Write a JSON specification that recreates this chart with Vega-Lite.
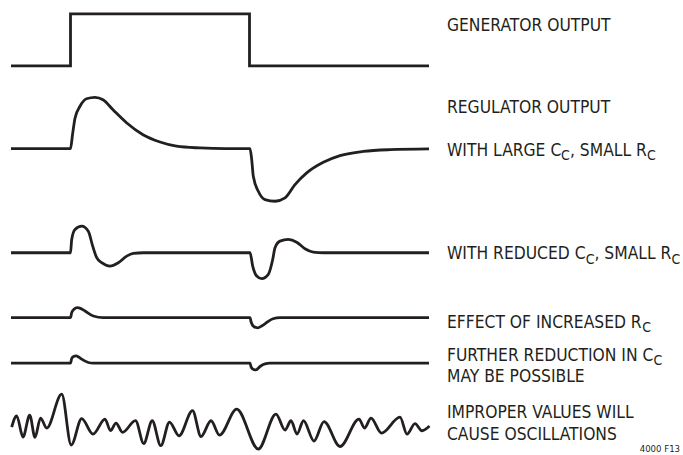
{
  "$schema": "https://vega.github.io/schema/vega-lite/v6.json",
  "width": 683,
  "height": 455,
  "autosize": {"type": "fit", "contains": "padding"},
  "padding": 0,
  "background": "white",
  "config": {"view": {"stroke": null}},
  "datasets": {
    "generator": [
      {"t": 11, "y": 66}, {"t": 70.5, "y": 66}, {"t": 70.5, "y": 14},
      {"t": 249.5, "y": 14}, {"t": 249.5, "y": 66}, {"t": 429, "y": 66}
    ],
    "curves": [
      {"trace": "large", "t": 11, "y": 149}, {"trace": "large", "t": 70.5, "y": 149}, {"trace": "large", "t": 72.5, "y": 135},
      {"trace": "large", "t": 75, "y": 118.5}, {"trace": "large", "t": 80, "y": 106.5}, {"trace": "large", "t": 86.5, "y": 99},
      {"trace": "large", "t": 95, "y": 97.5}, {"trace": "large", "t": 103, "y": 100}, {"trace": "large", "t": 113, "y": 110},
      {"trace": "large", "t": 126.5, "y": 123}, {"trace": "large", "t": 143, "y": 135}, {"trace": "large", "t": 160, "y": 142.3},
      {"trace": "large", "t": 176.5, "y": 146.5}, {"trace": "large", "t": 200, "y": 148.3}, {"trace": "large", "t": 226, "y": 149},
      {"trace": "large", "t": 250, "y": 149}, {"trace": "large", "t": 251.7, "y": 160}, {"trace": "large", "t": 253.3, "y": 176.7},
      {"trace": "large", "t": 258.3, "y": 191.7}, {"trace": "large", "t": 265, "y": 200}, {"trace": "large", "t": 275, "y": 201.7},
      {"trace": "large", "t": 285, "y": 198.3}, {"trace": "large", "t": 295, "y": 185}, {"trace": "large", "t": 306.7, "y": 173.3},
      {"trace": "large", "t": 323.3, "y": 162.7}, {"trace": "large", "t": 340, "y": 156}, {"trace": "large", "t": 363.3, "y": 151.7},
      {"trace": "large", "t": 390, "y": 150}, {"trace": "large", "t": 429, "y": 149.3},

      {"trace": "reduced", "t": 11, "y": 253.3}, {"trace": "reduced", "t": 70.5, "y": 253.3}, {"trace": "reduced", "t": 71.7, "y": 240},
      {"trace": "reduced", "t": 75, "y": 230}, {"trace": "reduced", "t": 81.7, "y": 226.7}, {"trace": "reduced", "t": 88.3, "y": 231.7},
      {"trace": "reduced", "t": 92.7, "y": 246.7}, {"trace": "reduced", "t": 96.7, "y": 258.3}, {"trace": "reduced", "t": 101.7, "y": 263.3},
      {"trace": "reduced", "t": 110, "y": 266.7}, {"trace": "reduced", "t": 118.3, "y": 263.3}, {"trace": "reduced", "t": 126.7, "y": 256.7},
      {"trace": "reduced", "t": 133.3, "y": 254}, {"trace": "reduced", "t": 143.3, "y": 253.3}, {"trace": "reduced", "t": 250, "y": 253.3},
      {"trace": "reduced", "t": 252.7, "y": 266.7}, {"trace": "reduced", "t": 256.7, "y": 276.7}, {"trace": "reduced", "t": 261.7, "y": 279.3},
      {"trace": "reduced", "t": 268.3, "y": 275}, {"trace": "reduced", "t": 272.7, "y": 260}, {"trace": "reduced", "t": 275, "y": 248.3},
      {"trace": "reduced", "t": 280, "y": 241.7}, {"trace": "reduced", "t": 288.3, "y": 240}, {"trace": "reduced", "t": 296.7, "y": 242.7},
      {"trace": "reduced", "t": 305, "y": 249.3}, {"trace": "reduced", "t": 313.3, "y": 252.7}, {"trace": "reduced", "t": 323.3, "y": 253.3},
      {"trace": "reduced", "t": 429, "y": 253.3},

      {"trace": "rc", "t": 11, "y": 318.3}, {"trace": "rc", "t": 70.5, "y": 318.3}, {"trace": "rc", "t": 71.7, "y": 313.3},
      {"trace": "rc", "t": 74, "y": 310}, {"trace": "rc", "t": 77.3, "y": 308.3}, {"trace": "rc", "t": 81, "y": 309.3},
      {"trace": "rc", "t": 85, "y": 311.7}, {"trace": "rc", "t": 93.3, "y": 316.7}, {"trace": "rc", "t": 103.3, "y": 318.3},
      {"trace": "rc", "t": 250, "y": 318.3}, {"trace": "rc", "t": 251.2, "y": 323}, {"trace": "rc", "t": 254, "y": 327.5},
      {"trace": "rc", "t": 257.5, "y": 328.5}, {"trace": "rc", "t": 262, "y": 326.5}, {"trace": "rc", "t": 267, "y": 323},
      {"trace": "rc", "t": 273, "y": 319.5}, {"trace": "rc", "t": 280, "y": 318.3}, {"trace": "rc", "t": 429, "y": 318.3},

      {"trace": "further", "t": 11, "y": 364}, {"trace": "further", "t": 70.5, "y": 364}, {"trace": "further", "t": 71.7, "y": 359.3},
      {"trace": "further", "t": 73.5, "y": 357.3}, {"trace": "further", "t": 76, "y": 356.7}, {"trace": "further", "t": 79, "y": 358},
      {"trace": "further", "t": 81.7, "y": 360}, {"trace": "further", "t": 88.3, "y": 363.3}, {"trace": "further", "t": 93.3, "y": 364},
      {"trace": "further", "t": 250, "y": 364}, {"trace": "further", "t": 251.2, "y": 368}, {"trace": "further", "t": 254, "y": 370.5},
      {"trace": "further", "t": 256, "y": 370.7}, {"trace": "further", "t": 260, "y": 367.3}, {"trace": "further", "t": 265, "y": 364.7},
      {"trace": "further", "t": 270, "y": 364}, {"trace": "further", "t": 429, "y": 364},

      {"trace": "osc", "t": 11.7, "y": 428}, {"trace": "osc", "t": 16.7, "y": 416.7}, {"trace": "osc", "t": 23, "y": 438},
      {"trace": "osc", "t": 29.7, "y": 416}, {"trace": "osc", "t": 35, "y": 438.3}, {"trace": "osc", "t": 40.5, "y": 419},
      {"trace": "osc", "t": 46.7, "y": 429}, {"trace": "osc", "t": 61.7, "y": 395}, {"trace": "osc", "t": 71.2, "y": 446},
      {"trace": "osc", "t": 81.7, "y": 419.5}, {"trace": "osc", "t": 93, "y": 435}, {"trace": "osc", "t": 105, "y": 420},
      {"trace": "osc", "t": 110.5, "y": 431.5}, {"trace": "osc", "t": 116, "y": 424}, {"trace": "osc", "t": 122.5, "y": 433.3},
      {"trace": "osc", "t": 135.5, "y": 421.5}, {"trace": "osc", "t": 143.7, "y": 444.5}, {"trace": "osc", "t": 152.2, "y": 421.7},
      {"trace": "osc", "t": 160.8, "y": 446.7}, {"trace": "osc", "t": 169.5, "y": 423}, {"trace": "osc", "t": 179, "y": 436.7},
      {"trace": "osc", "t": 192.5, "y": 411.5}, {"trace": "osc", "t": 201, "y": 437.5}, {"trace": "osc", "t": 211, "y": 421.7},
      {"trace": "osc", "t": 219.5, "y": 436}, {"trace": "osc", "t": 236.7, "y": 410}, {"trace": "osc", "t": 258.3, "y": 450},
      {"trace": "osc", "t": 276, "y": 415}, {"trace": "osc", "t": 285, "y": 431}, {"trace": "osc", "t": 291, "y": 421.7},
      {"trace": "osc", "t": 297, "y": 435}, {"trace": "osc", "t": 303.5, "y": 421.7}, {"trace": "osc", "t": 314, "y": 442},
      {"trace": "osc", "t": 324, "y": 422.5}, {"trace": "osc", "t": 340, "y": 447.5}, {"trace": "osc", "t": 359, "y": 420},
      {"trace": "osc", "t": 364.5, "y": 429}, {"trace": "osc", "t": 371, "y": 419}, {"trace": "osc", "t": 381.5, "y": 434},
      {"trace": "osc", "t": 400, "y": 418}, {"trace": "osc", "t": 407, "y": 435}, {"trace": "osc", "t": 415, "y": 424.5},
      {"trace": "osc", "t": 422, "y": 431.7}, {"trace": "osc", "t": 429.5, "y": 427}
    ],
    "labels": [
      {"kind": "main", "seg": "GENERATOR OUTPUT", "t": 447, "y": 30.7},
      {"kind": "main", "seg": "REGULATOR OUTPUT", "t": 447, "y": 113.3},
      {"kind": "main", "seg": "WITH LARGE C", "t": 447, "y": 156.7},
      {"kind": "main", "seg": ", SMALL R", "t": 570, "y": 156.7},
      {"kind": "main", "seg": "WITH REDUCED C", "t": 447, "y": 260},
      {"kind": "main", "seg": ", SMALL R", "t": 594.5, "y": 260},
      {"kind": "main", "seg": "EFFECT OF INCREASED R", "t": 447, "y": 328.3},
      {"kind": "main", "seg": "FURTHER REDUCTION IN C", "t": 447, "y": 361.7},
      {"kind": "main", "seg": "MAY BE POSSIBLE", "t": 447, "y": 383.3},
      {"kind": "main", "seg": "IMPROPER VALUES WILL", "t": 447, "y": 419.3},
      {"kind": "main", "seg": "CAUSE OSCILLATIONS", "t": 447, "y": 440.7},
      {"kind": "sub", "seg": "C", "t": 561, "y": 160.7},
      {"kind": "sub", "seg": "C", "t": 647, "y": 160.7},
      {"kind": "sub", "seg": "C", "t": 585.8, "y": 264.3},
      {"kind": "sub", "seg": "C", "t": 671.6, "y": 264.3},
      {"kind": "sub", "seg": "C", "t": 642.2, "y": 332.7},
      {"kind": "sub", "seg": "C", "t": 653.5, "y": 366},
      {"kind": "id", "seg": "4000 F13", "t": 680, "y": 452.5}
    ]
  },
  "encoding": {
    "x": {"field": "t", "type": "quantitative", "scale": {"domain": [0, 683], "nice": false, "zero": false}, "axis": null},
    "y": {"field": "y", "type": "quantitative", "scale": {"domain": [0, 455], "nice": false, "zero": false, "reverse": true}, "axis": null}
  },
  "layer": [
    {
      "data": {"name": "generator"},
      "mark": {"type": "line", "interpolate": "linear", "color": "#231f20", "strokeWidth": 2.8, "strokeJoin": "miter", "clip": false}
    },
    {
      "data": {"name": "curves"},
      "mark": {"type": "line", "interpolate": "monotone", "color": "#231f20", "strokeWidth": 2.8, "clip": false},
      "encoding": {"detail": {"field": "trace", "type": "nominal"}}
    },
    {
      "data": {"name": "labels"},
      "transform": [{"filter": "datum.kind == 'main'"}],
      "mark": {"type": "text", "align": "left", "baseline": "alphabetic", "font": "DejaVu Sans Condensed, DejaVu Sans", "fontSize": 17.3, "color": "#231f20"},
      "encoding": {"text": {"field": "seg", "type": "nominal"}}
    },
    {
      "data": {"name": "labels"},
      "transform": [{"filter": "datum.kind == 'sub'"}],
      "mark": {"type": "text", "align": "left", "baseline": "alphabetic", "font": "DejaVu Sans Condensed, DejaVu Sans", "fontSize": 14, "color": "#231f20"},
      "encoding": {"text": {"field": "seg", "type": "nominal"}}
    },
    {
      "data": {"name": "labels"},
      "transform": [{"filter": "datum.kind == 'id'"}],
      "mark": {"type": "text", "align": "right", "baseline": "alphabetic", "font": "DejaVu Sans Condensed, DejaVu Sans", "fontSize": 9.5, "color": "#231f20"},
      "encoding": {"text": {"field": "seg", "type": "nominal"}}
    }
  ]
}
